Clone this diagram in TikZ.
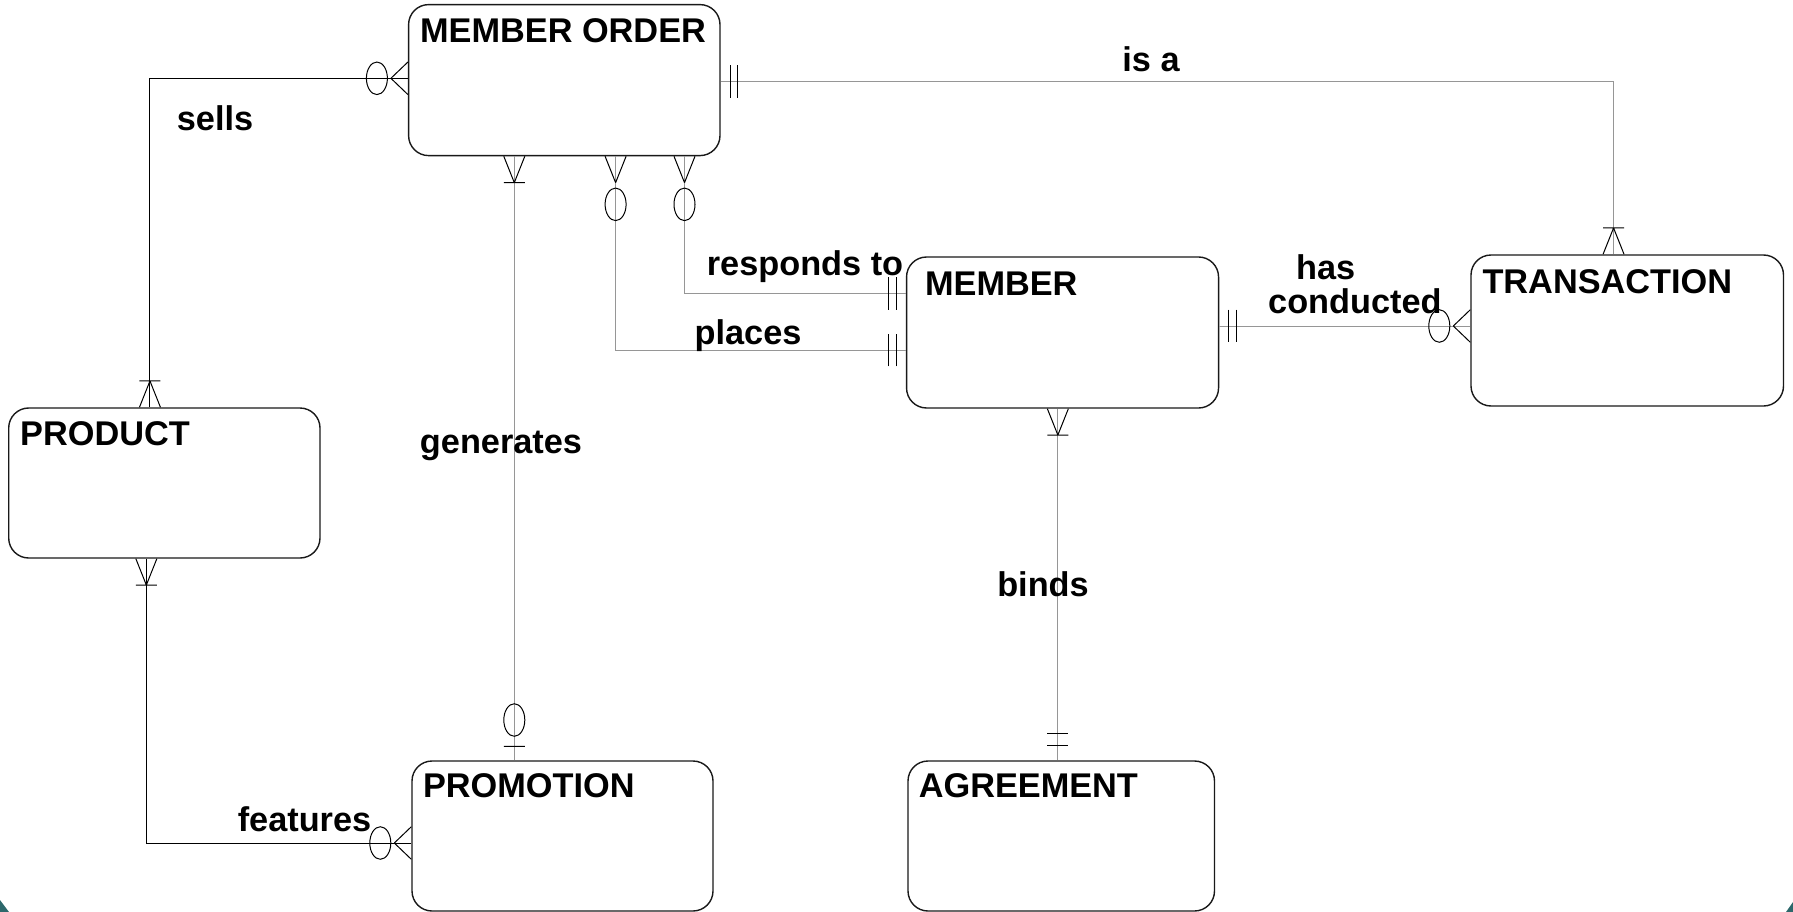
\documentclass[tikz,border=0pt]{standalone}
\usepackage{fontspec}
\setmainfont{Liberation Sans}
\usetikzlibrary{calc}
\definecolor{relgray}{RGB}{150,150,150}
\definecolor{slideteal}{RGB}{45,104,107}
% cardinality marks, drawn outward along +x from a box edge at the origin
\newcommand{\mkOneMany}{\draw[markline] (17,0) -- (0,10.5) (17,0) -- (0,-10.5) (17,-10.5) -- (17,10.5);}
\newcommand{\mkZeroMany}{\draw[markline] (17,0) -- (0,10.5) (17,0) -- (0,-10.5) (31,0) circle[radius=10.5];}
\newcommand{\mkOnlyOne}{\draw[markline] (9.5,-10.5) -- (9.5,10.5) (17,-10.5) -- (17,10.5);}
\newcommand{\mkZeroOne}{\draw[markline] (9,-10.5) -- (9,10.5) (26,0) circle[radius=10.5];}
% place a mark at a named point, turned to point away from the box
\newcommand{\erdmark}[3]{\begin{scope}[shift={(#1)}, yscale=1.55, rotate=#2]#3\end{scope}}

\begin{document}
\begin{tikzpicture}[x=1pt, y=-1pt,
  entity/.style={draw=black!90, line width=1.4pt, rounded corners=20pt, inner sep=0pt},
  title/.style={anchor=base west, inner sep=0pt, font=\fontsize{34.3pt}{33.4pt}\selectfont\bfseries},
  rel/.style={anchor=base, inner sep=0pt, font=\fontsize{34.3pt}{33.4pt}\selectfont\bfseries},
  solidlink/.style={draw=black, line width=1pt},
  greylink/.style={draw=relgray, line width=1pt},
  markline/.style={draw=black, line width=1pt}
]
\useasboundingbox (0,0) rectangle (1793,912);
\fill[white] (0,0) rectangle (1793,912);
\fill[slideteal] (0,900) -- (9,912) -- (0,912) -- cycle;
\fill[slideteal] (1793,902) -- (1786,912) -- (1793,912) -- cycle;

% entities
\node[entity, minimum width=311.4pt, minimum height=151pt] (mo) at (564.3,80.1) {};
\node[entity, minimum width=311.3pt, minimum height=150pt] (prod) at (164.35,483) {};
\node[entity, minimum width=301pt, minimum height=150pt] (prom) at (562.5,836) {};
\node[entity, minimum width=306.5pt, minimum height=150pt] (agr) at (1061.25,836) {};
\node[entity, minimum width=312pt, minimum height=151pt] (mem) at (1062.55,332.5) {};
\node[entity, minimum width=312.5pt, minimum height=151pt] (trans) at (1627.25,330.5) {};

% entity titles
\node[title] (mo-t) at ([shift={(12pt,-38.7pt)}]mo.north west) {MEMBER ORDER};
\node[title] (prod-t) at ([shift={(12pt,-38pt)}]prod.north west) {PRODUCT};
\node[title] (prom-t) at ([shift={(11.5pt,-37pt)}]prom.north west) {PROMOTION};
\node[title] (agr-t) at ([shift={(11.3pt,-37pt)}]agr.north west) {AGREEMENT};
\node[title] (mem-t) at ([shift={(19pt,-39.3pt)}]mem.north west) {MEMBER};
\node[title] (trans-t) at ([shift={(12pt,-39.6pt)}]trans.north west) {TRANSACTION};

% connector end points
\coordinate (s1) at ([yshift=1.8pt]mo.west);
\coordinate (s2) at ([xshift=-14.4pt]prod.north);
\coordinate (f1) at ([xshift=-18pt]prod.south);
\coordinate (f2) at ([yshift=-7pt]prom.west);
\coordinate (g1) at ([xshift=-50pt]mo.south);
\coordinate (g2) at (g1 |- prom.north);
\coordinate (p1) at ([xshift=51.3pt]mo.south);
\coordinate (p2) at ([yshift=-17.5pt]mem.west);
\coordinate (r1) at ([xshift=120.2pt]mo.south);
\coordinate (r2) at ([yshift=38.8pt]mem.west);
\coordinate (i1) at ([yshift=-1.6pt]mo.east);
\coordinate (i2) at ([xshift=-13.7pt]trans.north);
\coordinate (h1) at ([yshift=6.5pt]mem.east);
\coordinate (h2) at (h1 -| trans.west);
\coordinate (b1) at ([xshift=-4.7pt]mem.south);
\coordinate (b2) at (b1 |- agr.north);

% relationships
\draw[solidlink] (s1) -| (s2);
\draw[solidlink] (f1) |- (f2);
\draw[greylink] (g1) -- (g2);
\draw[greylink] (p1) |- (p2);
\draw[greylink] (r1) |- (r2);
\draw[greylink] (i1) -| (i2);
\draw[greylink] (h1) -- (h2);
\draw[greylink] (b1) -- (b2);

% cardinality marks
\erdmark{s1}{180}{\mkZeroMany}
\erdmark{s2}{90}{\mkOneMany}
\erdmark{f1}{-90}{\mkOneMany}
\erdmark{f2}{180}{\mkZeroMany}
\erdmark{g1}{-90}{\mkOneMany}
\erdmark{g2}{90}{\mkZeroOne}
\erdmark{p1}{-90}{\mkZeroMany}
\erdmark{p2}{180}{\mkOnlyOne}
\erdmark{r1}{-90}{\mkZeroMany}
\erdmark{r2}{180}{\mkOnlyOne}
\erdmark{i1}{0}{\mkOnlyOne}
\erdmark{i2}{90}{\mkOneMany}
\erdmark{h1}{0}{\mkOnlyOne}
\erdmark{h2}{180}{\mkZeroMany}
\erdmark{b1}{-90}{\mkOneMany}
\erdmark{b2}{90}{\mkOnlyOne}

% relationship labels
\node[rel] (sells-l) at (215,131) {sells};
\node[rel] (features-l) at (304.5,831.5) {features};
\node[rel] (generates-l) at (501,453.5) {generates};
\node[rel] (places-l) at (748,344) {places};
\node[rel] (responds-l) at (805,275.5) {responds to};
\node[rel] (isa-l) at (1151,71.5) {is a};
\node[rel] (binds-l) at (1043,596.5) {binds};
\node[rel, anchor=base west, align=left] (conducted-l) at (1268,313) {\hspace*{28pt}has\\conducted};
\end{tikzpicture}
\end{document}
